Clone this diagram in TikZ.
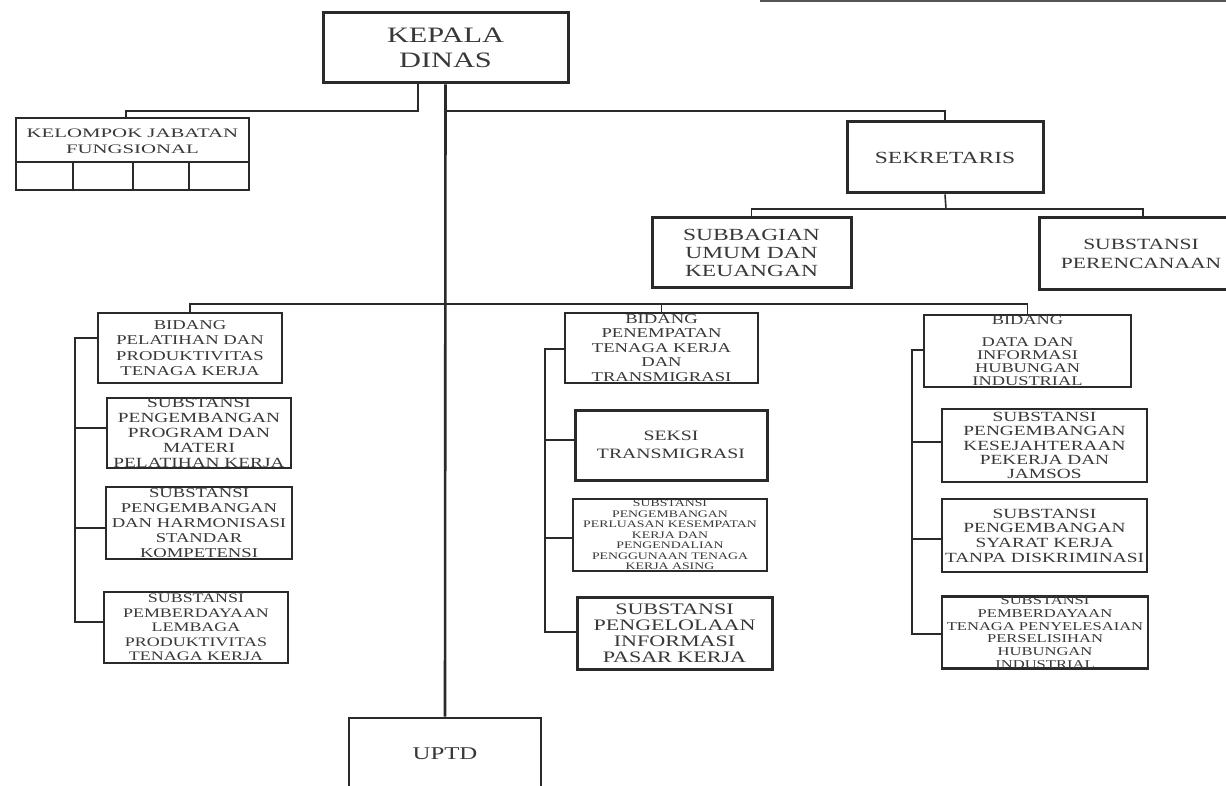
\documentclass[tikz,border=0pt]{standalone}
\usepackage{fontspec}
\setmainfont{Liberation Serif}[FakeStretch=1.38]
\newfontfamily\widefont{Liberation Serif}[FakeStretch=1.6]
\definecolor{ink}{HTML}{2A2A2A}
\definecolor{txt}{HTML}{383838}
\newcommand{\fs}[2]{\fontsize{#1}{#2}\selectfont}
\tikzset{
  orgbox/.style={draw=ink, line width=2.6pt, inner sep=0pt, align=center, text=txt},
  conn/.style={draw=ink, line width=1.6pt},
  busthick/.style={draw=ink, line width=2.6pt},
}
\begin{document}
\begin{tikzpicture}[x=1pt,y=-1pt]
\useasboundingbox (0,0) rectangle (1226,786);
\fill[white] (0,0) rectangle (1226,786);

% top-right fragment
\coordinate (tr1) at (760,1.5);
\coordinate (tr2) at (1226,1.5);
\draw[draw=ink!80, line width=2pt] (tr1) -- (tr2);

% top level
\node[orgbox, line width=3pt, minimum width=245pt, minimum height=70pt, font=\fs{22}{25}] (kd) at (445.5,48) {KEPALA\\DINAS};

\node[orgbox, minimum width=233pt, minimum height=72pt] (kjf) at (132.5,154) {};
\node[text=txt, align=center, inner sep=0pt, font=\widefont\fs{13}{16}] (kjft) at (132.5,141) {KELOMPOK JABATAN\\FUNGSIONAL};
\draw[conn, line width=2pt] ([yshift=-8pt]kjf.west) -- ([yshift=-8pt]kjf.east);
\draw[conn, line width=2.2pt] ([xshift=58pt]kjf.south west) -- ++(0,-28);
\draw[conn, line width=2.2pt] ([xshift=118pt]kjf.south west) -- ++(0,-28);
\draw[conn, line width=2.2pt] ([xshift=174pt]kjf.south west) -- ++(0,-28);

\node[orgbox, line width=3pt, minimum width=196pt, minimum height=71pt, font=\fs{17}{20}] (sek) at (945,157.5) {SEKRETARIS};
\node[orgbox, line width=3pt, minimum width=199pt, minimum height=70pt, font=\fs{17}{18}] (sub) at (751.5,253) {SUBBAGIAN\\UMUM DAN\\KEUANGAN};
\node[orgbox, line width=3pt, minimum width=208pt, minimum height=72pt] (per) at (1143,254) {};
\node[text=txt, align=center, inner sep=0pt, font=\fs{15.6}{18.5}] (pert) at (1141,254) {SUBSTANSI\\PERENCANAAN};

\node[orgbox, minimum width=192pt, minimum height=72pt, font=\fs{18}{20}] (uptd) at (445,754) {UPTD};

% left column
\node[orgbox, minimum width=184pt, minimum height=70pt, font=\fs{13.5}{15.5}] (L1) at (190,348) {BIDANG\\PELATIHAN DAN\\PRODUKTIVITAS\\TENAGA KERJA};
\node[orgbox, minimum width=184pt, minimum height=70pt, font=\fs{14}{15}] (L2) at (199,433) {SUBSTANSI\\PENGEMBANGAN\\PROGRAM DAN\\MATERI\\PELATIHAN KERJA};
\node[orgbox, minimum width=186pt, minimum height=72pt, font=\fs{13.5}{15}] (L3) at (199,523) {SUBSTANSI\\PENGEMBANGAN\\DAN HARMONISASI\\STANDAR\\KOMPETENSI};
\node[orgbox, minimum width=184pt, minimum height=71pt, font=\fs{13}{14.5}] (L4) at (196,627.5) {SUBSTANSI\\PEMBERDAYAAN\\LEMBAGA\\PRODUKTIVITAS\\TENAGA KERJA};

% middle column
\node[orgbox, minimum width=193pt, minimum height=70pt, font=\fs{13.5}{14.5}] (M1) at (661.5,348) {BIDANG\\PENEMPATAN\\TENAGA KERJA\\DAN\\TRANSMIGRASI};
\node[orgbox, line width=3pt, minimum width=192pt, minimum height=70pt, font=\fs{14.3}{18}] (M2) at (671,445) {SEKSI\\TRANSMIGRASI};
\node[orgbox, minimum width=194pt, minimum height=72pt, font=\fs{10}{10.5}] (M3) at (670,535) {SUBSTANSI\\PENGEMBANGAN\\PERLUASAN KESEMPATAN\\KERJA DAN\\PENGENDALIAN\\PENGGUNAAN TENAGA\\KERJA ASING};
\node[orgbox, line width=3pt, minimum width=195pt, minimum height=72pt, font=\fs{16}{16}] (M4) at (674.5,633) {SUBSTANSI\\PENGELOLAAN\\INFORMASI\\PASAR KERJA};

% right column
\node[orgbox, minimum width=207pt, minimum height=72pt, font=\fs{13.3}{13.3}] (R1) at (1027.5,351) {BIDANG\\[8pt]DATA DAN\\INFORMASI\\HUBUNGAN\\INDUSTRIAL};
\node[orgbox, minimum width=205pt, minimum height=73pt, font=\fs{14}{14.3}] (R2) at (1044.5,445.5) {SUBSTANSI\\PENGEMBANGAN\\KESEJAHTERAAN\\PEKERJA DAN\\JAMSOS};
\node[orgbox, minimum width=205pt, minimum height=73pt, font=\fs{14}{14.7}] (R3) at (1044.5,535.5) {SUBSTANSI\\PENGEMBANGAN\\SYARAT KERJA\\TANPA DISKRIMINASI};
\node[orgbox, minimum width=206pt, minimum height=71pt, font=\fs{12}{12.8}] (R4) at (1045,632.5) {SUBSTANSI\\PEMBERDAYAAN\\TENAGA PENYELESAIAN\\PERSELISIHAN\\HUBUNGAN\\INDUSTRIAL};

% connectors: top
\coordinate (kjfc) at (126,111);
\draw[conn] ([xshift=-27.5pt]kd.south) |- (kjfc) -- (kjfc |- kjf.north);
\draw[busthick] (kd.south) -- (uptd.north);
\coordinate (sekc) at (946,111);
\draw[conn] (kd.south |- sekc) -| (sek.north);
\coordinate (sb) at (946,209);
\draw[conn] (sek.south) -- (sb);
\draw[conn] (sub.north) |- (sb) -| (per.north);

% main bus
\coordinate (bus) at (446,304);
\draw[conn, line width=1.4pt] (L1.north) |- (bus) -| (R1.north);
\draw[conn, line width=1.4pt] (M1.north) -- (M1.north |- bus);

% left bus
\coordinate (lb1) at (75,338);
\coordinate (lb2) at (75,428);
\coordinate (lb3) at (75,528);
\coordinate (lb4) at (75,622);
\draw[busthick, line width=2.8pt] (lb1 -| L1.west) -- (lb1) -- (lb4) -- (lb4 -| L4.west);
\draw[busthick] (lb2) -- (lb2 -| L2.west);
\draw[busthick] (lb3) -- (lb3 -| L3.west);

% middle bus
\coordinate (mb1) at (545,349);
\coordinate (mb2) at (545,440);
\coordinate (mb3) at (545,538);
\coordinate (mb4) at (545,632);
\draw[conn] (mb1 -| M1.west) -- (mb1) -- (mb4) -- (mb4 -| M4.west);
\draw[conn] (mb2) -- (mb2 -| M2.west);
\draw[conn] (mb3) -- (mb3 -| M3.west);

% right bus
\coordinate (rb1) at (912,350);
\coordinate (rb2) at (912,442);
\coordinate (rb3) at (912,539);
\coordinate (rb4) at (912,634);
\draw[conn, line width=2pt] (rb1 -| R1.west) -- (rb1) -- (rb4) -- (rb4 -| R4.west);
\draw[conn, line width=2pt] (rb2) -- (rb2 -| R2.west);
\draw[conn, line width=2pt] (rb3) -- (rb3 -| R3.west);
\end{tikzpicture}
\end{document}
